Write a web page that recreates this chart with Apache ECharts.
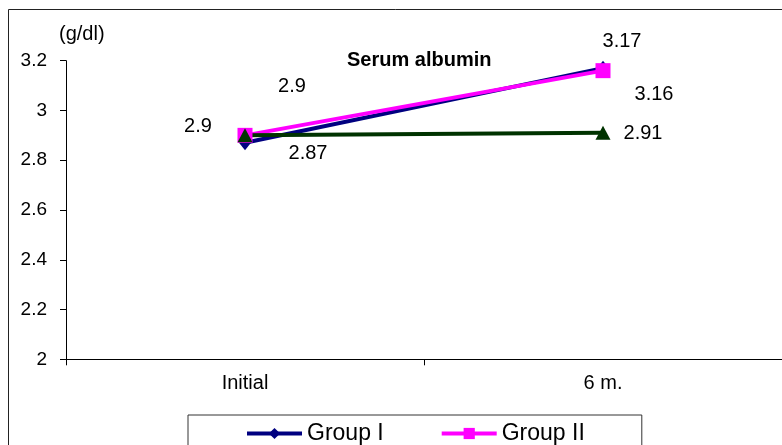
<!DOCTYPE html>
<html>
<head>
<meta charset="utf-8">
<script src="https://cdn.jsdelivr.net/npm/echarts@6/dist/echarts.min.js"></script>
<style>
html,body{margin:0;padding:0;background:#fff;}
#c{width:782px;height:445px;}
</style>
</head>
<body>
<div id="c"></div>
<script>
var categories = ['Initial', '6 m.'];
var groupI = [2.87, 3.17];
var groupII = [2.9, 3.16];
var groupIII = [2.9, 2.91];
var seriesNames = ['Group I', 'Group II', 'Group III'];
var yMin = 2, yMax = 3.2, yStep = 0.2;

var FONT = '"Liberation Sans", Arial, sans-serif';
var labelOffsets = {
  g1: [[63, 11], [19, -27]],
  g2: [[47, -49], [51, 24]],
  g3: [[-47, -9], [40, 1]]
};
function mk(vals, offs) {
  return vals.map(function (v, i) {
    return { value: v, label: { offset: offs[i] } };
  });
}
var lbl = { show: true, position: 'inside', color: '#000', fontSize: 20, fontFamily: FONT };

var chart = echarts.init(document.getElementById('c'));
chart.setOption({
  animation: false,
  backgroundColor: '#fff',
  title: [
    { text: 'Serum albumin', left: 347, top: 50, padding: 0,
      textStyle: { fontSize: 20, fontWeight: 'bold', color: '#000', fontFamily: FONT } },
    { text: '(g/dl)', left: 59, top: 24, padding: 0,
      textStyle: { fontSize: 20, fontWeight: 'normal', color: '#000', fontFamily: FONT } }
  ],
  graphic: [
    { type: 'rect', shape: { x: 8.5, y: 9.5, width: 900, height: 600 },
      style: { fill: null, stroke: '#222', lineWidth: 1 }, z: 100, silent: true }
  ],
  legend: {
    data: [seriesNames[0], seriesNames[1]],
    left: 188, top: 415,
    padding: [7, 57, 12, 57],
    borderColor: '#333', borderWidth: 1,
    itemWidth: 55, itemHeight: 14, itemGap: 56,
    lineStyle: { width: 4 },
    textStyle: { fontSize: 23, color: '#000', fontFamily: FONT }
  },
  grid: { left: 66, right: -2, top: 60.7, bottom: 85.7, containLabel: false },
  xAxis: {
    type: 'category',
    data: categories,
    boundaryGap: true,
    axisLine: { lineStyle: { color: '#000', width: 1 } },
    axisTick: { show: true, length: 6, lineStyle: { color: '#000' } },
    axisLabel: { margin: 14, fontSize: 20, color: '#000', fontFamily: FONT },
    splitLine: { show: false }
  },
  yAxis: {
    type: 'value',
    min: yMin, max: yMax, interval: yStep,
    axisLine: { show: true, lineStyle: { color: '#000', width: 1 } },
    axisTick: { show: true, length: 6, lineStyle: { color: '#000' } },
    axisLabel: { margin: 19, fontSize: 19, color: '#000', fontFamily: FONT,
      formatter: function (v) { return String(Math.round(v * 10) / 10); } },
    splitLine: { show: false }
  },
  series: [
    { name: seriesNames[0], type: 'line', data: mk(groupI, labelOffsets.g1),
      symbol: 'diamond', symbolSize: [12, 15],
      lineStyle: { color: '#000080', width: 4 },
      itemStyle: { color: '#000080' },
      label: lbl },
    { name: seriesNames[1], type: 'line', data: mk(groupII, labelOffsets.g2),
      symbol: 'rect', symbolSize: 15,
      lineStyle: { color: '#FF00FF', width: 4 },
      itemStyle: { color: '#FF00FF' },
      label: lbl },
    { name: seriesNames[2], type: 'line', data: mk(groupIII, labelOffsets.g3),
      symbol: 'triangle', symbolSize: [15, 14],
      lineStyle: { color: '#003300', width: 4 },
      itemStyle: { color: '#003300' },
      label: lbl }
  ]
});
</script>
</body>
</html>
